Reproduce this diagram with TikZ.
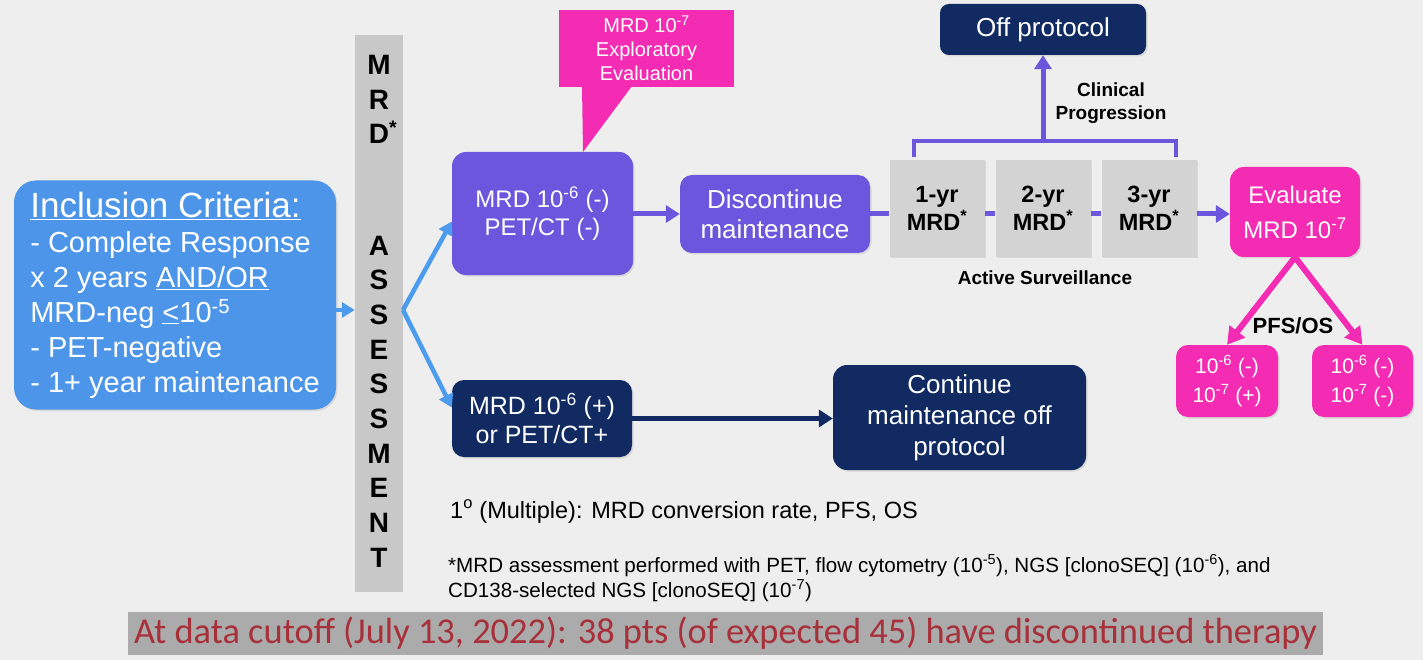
\documentclass[tikz,border=0pt]{standalone}
\usepackage{fontspec}
\setmainfont{Liberation Sans}
\newfontfamily\calibfont{Carlito}
\usetikzlibrary{arrows.meta,shadows}
\definecolor{bgc}{HTML}{EEEEEE}
\definecolor{inclblue}{HTML}{4C95E8}
\definecolor{arrblue}{HTML}{4B9CEF}
\definecolor{purp}{HTML}{6C56DE}
\definecolor{pnk}{HTML}{F42BB3}
\definecolor{navy}{HTML}{112B62}
\definecolor{yrgray}{HTML}{D3D3D3}
\definecolor{bargray}{HTML}{C8C8C8}
\definecolor{bannergray}{HTML}{ABABAB}
\definecolor{redtxt}{HTML}{A8303A}
\newcommand\fsz[2]{\fontsize{#1}{#2}\selectfont}

\begin{document}
\begin{tikzpicture}[x=1pt,y=-1pt,
shad/.style={drop shadow={opacity=0.2,shadow xshift=1.5pt,shadow yshift=-1.5pt}},
box/.style={rounded corners=12pt,align=center,text=white,inner sep=0pt,shad},
yrbox/.style={fill=yrgray,minimum width=95pt,minimum height=97pt,align=center,inner sep=0pt,font=\fsz{23.5}{28}\bfseries,shad},
lbl/.style={font=\fsz{19}{23}\bfseries,align=center,inner sep=0pt},
barletter/.style={font=\fsz{28}{28}\bfseries,anchor=base,inner sep=0pt},
arrB/.style={-{Triangle[length=13pt,width=15pt]},line width=4.5pt,draw=arrblue},
arrP/.style={-{Triangle[length=14pt,width=17pt]},line width=5pt,draw=purp},
lineP/.style={line width=5pt,draw=purp},
arrN/.style={-{Triangle[length=14pt,width=17pt]},line width=5pt,draw=navy},
arrK/.style={-{Triangle[length=17pt,width=19pt]},line width=6pt,draw=pnk}]
\useasboundingbox (0,0) rectangle (1423,660);
\fill[bgc] (0,0) rectangle (1423,660);

% left part
\node[box,fill=inclblue,rounded corners=22pt,minimum width=322pt,minimum height=229pt,align=left,font=\fsz{29}{35}] (incl) at (175,295)
 {{\fsz{35}{35}\underline{Inclusion Criteria:}}\\- Complete Response\\x 2 years \underline{AND/OR}\\MRD-neg \underline{<}10\textsuperscript{-5}\\- PET-negative\\- 1+ year maintenance};
\node[fill=bargray,minimum width=48pt,minimum height=557pt,inner sep=0pt] (bar) at (379,313.5) {};
\foreach \ltr [count=\i] in {M,R,D\rlap{\textsuperscript{*}}}
  \node[barletter] (mrd\i) at (379,{74.5+(\i-1)*34.7}) {\ltr};
\foreach \ltr [count=\i] in {A,S,S,E,S,S,M,E,N,T}
  \node[barletter] (asm\i) at (379,{255+(\i-1)*34.7}) {\ltr};
\coordinate (split) at (403,310);

% upper branch
\node[box,fill=purp,rounded corners=14pt,minimum width=181pt,minimum height=123pt,font=\fsz{24}{28}] (mrdneg) at (542.5,213.5) {MRD 10\textsuperscript{-6} (-)\\PET/CT (-)};
\node[fill=pnk,minimum width=175pt,minimum height=77pt,align=center,text=white,inner sep=0pt,font=\fsz{20}{24}] (callout) at (646.5,48.5) {MRD 10\textsuperscript{-7}\\Exploratory\\Evaluation};
\coordinate (tip) at (583,152);
\fill[pnk] (582,86) -- (tip) -- (632,86) -- cycle;
\node[box,fill=purp,minimum width=190pt,minimum height=78pt,font=\fsz{26}{30}] (disc) at (775,214) {Discontinue\\maintenance};
\node[yrbox] (yr1) at (937,208.5) {1-yr\\MRD\textsuperscript{*}};
\node[yrbox] (yr2) at (1043,208.5) {2-yr\\MRD\textsuperscript{*}};
\node[yrbox] (yr3) at (1149,208.5) {3-yr\\MRD\textsuperscript{*}};
\node[box,fill=pnk,rounded corners=14pt,minimum width=130pt,minimum height=90pt,font=\fsz{24}{35}] (eval) at (1295,212) {Evaluate\\MRD 10\textsuperscript{-7}};
\node[box,fill=navy,rounded corners=9pt,minimum width=206pt,minimum height=51pt,font=\fsz{26}{30}] (offprot) at (1043,29.5) {Off protocol};
\coordinate (brk) at (1043,141);
\node[lbl] (clin) at (1111,103.5) {Clinical\\Progression};
\node[lbl] (surv) at (1045,278) {Active Surveillance};
\node[box,fill=pnk,minimum width=102pt,minimum height=72pt,font=\fsz{21}{29}] (pfsa) at (1227,381) {10\textsuperscript{-6} (-)\\10\textsuperscript{-7} (+)};
\node[box,fill=pnk,minimum width=101pt,minimum height=72pt,font=\fsz{21}{29}] (pfsb) at (1362.5,381) {10\textsuperscript{-6} (-)\\10\textsuperscript{-7} (-)};
\node[lbl,font=\fsz{22}{26}\bfseries] (pfs) at (1293,326) {PFS/OS};

% lower branch
\node[box,fill=navy,minimum width=180pt,minimum height=77pt,font=\fsz{25}{29}] (mrdpos) at (542,418.5) {MRD 10\textsuperscript{-6} (+)\\or PET/CT+};
\node[box,fill=navy,rounded corners=14pt,minimum width=253pt,minimum height=105pt,font=\fsz{26}{31}] (cont) at (959.5,417.5) {Continue\\maintenance off\\protocol};

% notes
\node[anchor=base west,inner sep=0pt,font=\fsz{23.5}{28}] (note1) at (450,518) {1\textsuperscript{o} (Multiple): MRD conversion rate, PFS, OS};
\node[anchor=base west,inner sep=0pt,font=\fsz{20.6}{25}] (note2) at (448,572) {*MRD assessment performed with PET, flow cytometry (10\textsuperscript{-5}), NGS [clonoSEQ] (10\textsuperscript{-6}), and};
\node[anchor=base west,inner sep=0pt,font=\fsz{20.6}{25}] (note3) at (448,597) {CD138-selected NGS [clonoSEQ] (10\textsuperscript{-7})};
\node[fill=bannergray,minimum width=1195pt,minimum height=43pt,inner sep=0pt,text=redtxt,font=\calibfont\fsz{36.4}{40}] (cutoff) at (725.5,633.5) {At data cutoff (July 13, 2022): 38 pts (of expected 45) have discontinued therapy};

% connectors
\draw[arrB] (incl.east |- split) -- (bar.west |- split);
\draw[arrB] (split) -- ([yshift=-8pt]mrdneg.west);
\draw[arrB] (split) -- ([yshift=11pt]mrdpos.west);
\draw[arrP] (mrdneg.east |- disc.west) -- (disc.west);
\draw[lineP] (disc.east) -- (disc.east -| yr1.west);
\draw[lineP] (disc.east -| yr1.east) -- (disc.east -| yr2.west);
\draw[lineP] (disc.east -| yr2.east) -- (disc.east -| yr3.west);
\draw[arrP] (disc.east -| yr3.east) -- (disc.east -| eval.west);
\draw[line width=4pt,draw=purp] ([shift={(-23pt,3pt)}]yr1.north) |- (brk) -| ([shift={(27pt,3pt)}]yr3.north);
\draw[arrP] (brk) -- (offprot.south);
\draw[arrK] (eval.south) -- (pfsa.north);
\draw[arrK] (eval.south) -- (pfsb.north);
\draw[arrN] (mrdpos.east) -- (mrdpos.east -| cont.west);
\end{tikzpicture}
\end{document}
